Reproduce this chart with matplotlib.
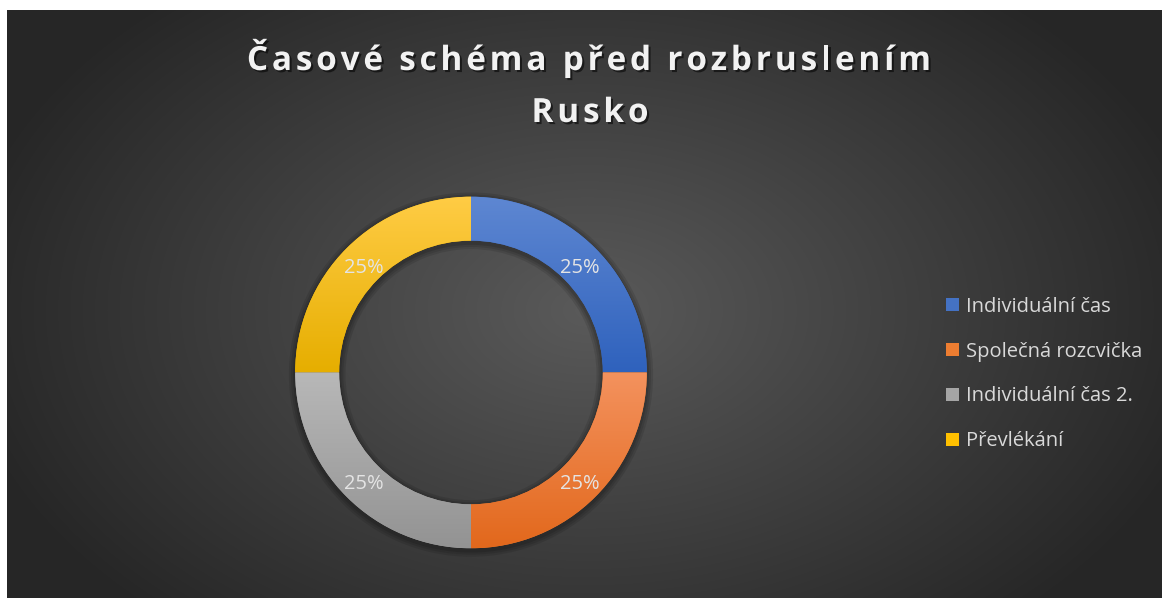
import numpy as np
import matplotlib
matplotlib.use('Agg')
import matplotlib.pyplot as plt
import matplotlib.patheffects as pe
from matplotlib.colors import to_rgb
from matplotlib.patches import Wedge

# data
kategorie = ['Individuální čas', 'Společná rozcvička', 'Individuální čas 2.', 'Převlékání']
hodnoty = [25, 25, 25, 25]
barvy = ['#4472C4', '#ED7D31', '#A5A5A5', '#FFC000']
barvy_nahore = ['#5E87D2', '#F4925E', '#B8B8B8', '#FFCC45']
barvy_dole = ['#2F62BD', '#E2681C', '#939393', '#E6AE00']
nadpis = ['Časové schéma před rozbruslením', 'Rusko']

W, H = 1163, 599
plt.rcParams['font.family'] = ['Open Sans', 'DejaVu Sans']

fig = plt.figure(figsize=(W / 100, H / 100), dpi=100)
fig.patch.set_facecolor('white')

# pozadi s radialnim prechodem
bg = fig.add_axes([7 / W, 1 / H, 1155 / W, 588 / H])
bg.set_axis_off()
yy, xx = np.mgrid[0:588, 0:1155]
cx, cy = 580, 300
d = np.sqrt(((xx - cx) / 640) ** 2 + ((yy - cy) / 420) ** 2)
t = np.clip(d, 0, 1)[..., None]
c0 = np.array(to_rgb('#5A5A5A'))
c1 = np.array(to_rgb('#262626'))
img = c0 * (1 - t) + c1 * t
bg.imshow(img, extent=[0, 1, 0, 1], aspect='auto', origin='upper')
bg.set_xlim(0, 1)
bg.set_ylim(0, 1)

# prstenec
R = 175.8
ax = fig.add_axes([(471 - 200) / W, (599 - 372.5 - 200) / H, 400 / W, 400 / H])
ax.set_axis_off()
lim = 200 / R
ax.set_xlim(-lim, lim)
ax.set_ylim(-lim, lim)

# jemny stin pod prstencem
for k, a in enumerate([0.10, 0.10, 0.12]):
    s = Wedge((0.0, -0.012), 1.0 + 0.012 * (3 - k), 0, 360, width=0.25 + 0.024 * (3 - k),
              facecolor='black', alpha=a, edgecolor='none')
    ax.add_patch(s)

wedges, texts, autotexts = ax.pie(hodnoty, colors=barvy, startangle=90, counterclock=False,
                                  radius=1.0, autopct='%1.0f%%', pctdistance=0.87,
                                  wedgeprops=dict(width=0.25, edgecolor='none'),
                                  textprops=dict(color='#E4E4E4', fontsize=14.5))
ax.set_xlim(-lim, lim)
ax.set_ylim(-lim, lim)

# svisly prechod v kazdem segmentu
for w, top, bot in zip(wedges, barvy_nahore, barvy_dole):
    bb = w.get_path().get_extents(w.get_patch_transform())
    g = np.linspace(0, 1, 256)[:, None, None]
    grad = np.array(to_rgb(top)) * (1 - g) + np.array(to_rgb(bot)) * g
    im = ax.imshow(grad, extent=[bb.x0, bb.x1, bb.y0, bb.y1], aspect='auto',
                   origin='upper', zorder=w.get_zorder() + 0.1)
    im.set_clip_path(w)
for at in autotexts:
    at.set_zorder(5)
    px, py = at.get_position()
    at.set_position((px + 0.004, py - 0.02))

# legenda
leg = ax.legend(wedges, kategorie, loc='center left', bbox_to_anchor=(938 / W, (599 - 374) / H),
                bbox_transform=fig.transFigure, frameon=False, fontsize=14.5,
                labelcolor='#D9D9D9', handlelength=0.62, handleheight=0.62,
                handletextpad=0.35, labelspacing=1.24, borderaxespad=0)


# nadpis s prostrkanim
def prostrkany_text(s, xc, yb, size, track):
    r = fig.canvas.get_renderer()

    def sirka(u):
        tt = fig.text(0, 0, u, fontsize=size, fontweight='bold')
        bw = tt.get_window_extent(r).width
        tt.remove()
        return bw

    zaklad = sirka('||')
    adv = [sirka('|' + c + '|') - zaklad for c in s]
    total = sum(adv) + track * (len(s) - 1)
    x = xc - total / 2
    for c, a in zip(s, adv):
        fig.text(x / W, 1 - yb / H, c, fontsize=size, fontweight='bold', color='#F2F2F2',
                 ha='left', va='baseline',
                 path_effects=[pe.withSimplePatchShadow(offset=(1.5, -1.5), shadow_rgbFace='black', alpha=0.55)])
        x += a + track


prostrkany_text(nadpis[0], 589, 70, 24, 3.8)
prostrkany_text(nadpis[1], 590, 122, 24, 3.8)

fig.savefig('out.png', dpi=100, facecolor=fig.get_facecolor())
